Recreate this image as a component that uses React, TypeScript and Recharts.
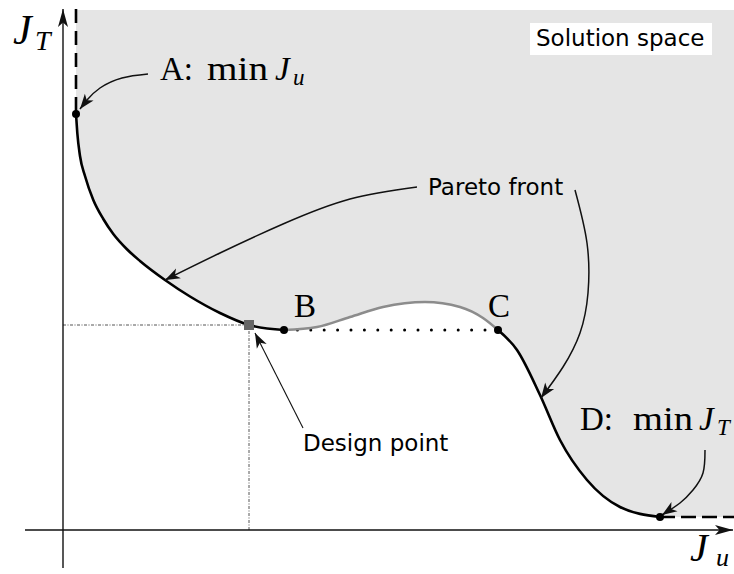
import { ComposedChart, XAxis, YAxis, Area, Line, ReferenceLine, ReferenceDot } from 'recharts';

// Objective space: x = J_u, y = J_T (arbitrary cost units, origin where the axes cross)
const X_DOMAIN: [number, number] = [-63, 671];
const Y_DOMAIN: [number, number] = [-44, 530];
const SPACE_TOP = 520;
const SPACE_RIGHT = 671;

// Pareto front, split by how each piece is drawn
const frontAtoB = [
  { x: 13, y: 416 },
  { x: 14.3, y: 397 },
  { x: 17, y: 374 },
  { x: 22, y: 354 },
  { x: 30.3, y: 330 },
  { x: 40.3, y: 311 },
  { x: 50.3, y: 296 },
  { x: 63.7, y: 281 },
  { x: 77, y: 269 },
  { x: 102, y: 250 },
  { x: 127, y: 233.5 },
  { x: 157, y: 217 },
  { x: 186, y: 205 },
  { x: 221, y: 200 },
];
const nonConvexBtoC = [
  { x: 221, y: 200 },
  { x: 254, y: 203 },
  { x: 287, y: 213 },
  { x: 320, y: 223 },
  { x: 362, y: 228 },
  { x: 397, y: 223 },
  { x: 420, y: 212 },
  { x: 435, y: 200 },
];
const frontCtoD = [
  { x: 435, y: 200 },
  { x: 454, y: 180 },
  { x: 477, y: 135 },
  { x: 497, y: 90 },
  { x: 524, y: 50 },
  { x: 557, y: 23 },
  { x: 597, y: 13 },
];

const pointA = { x: 13, y: 416 };
const pointB = { x: 221, y: 200 };
const pointC = { x: 435, y: 200 };
const pointD = { x: 597, y: 13 };
const designPoint = { x: 186, y: 205 };

// annotation arrows (last point is the tip)
const arrowA = [
  { x: 85, y: 456 },
  { x: 59, y: 452 },
  { x: 37, y: 442 },
  { x: 24, y: 430 },
  { x: 17, y: 421 },
];
const arrowFrontLeft = [
  { x: 354, y: 343 },
  { x: 287, y: 331 },
  { x: 220, y: 306 },
  { x: 157, y: 277 },
  { x: 102, y: 250 },
];
const arrowFrontRight = [
  { x: 512, y: 340 },
  { x: 524, y: 287 },
  { x: 525, y: 237 },
  { x: 517, y: 197 },
  { x: 500, y: 163 },
  { x: 478, y: 132 },
];
const arrowDesign = [
  { x: 240, y: 102 },
  { x: 192, y: 197 },
];
const arrowD = [
  { x: 642, y: 80 },
  { x: 640, y: 57 },
  { x: 630, y: 40 },
  { x: 617, y: 27 },
  { x: 599, y: 15 },
];

// feasible region: everything above the front
const regionData = [
  ...frontAtoB,
  ...nonConvexBtoC.slice(1),
  ...frontCtoD.slice(1),
  { x: SPACE_RIGHT, y: pointD.y },
].map((p) => ({ x: p.x, band: [p.y, SPACE_TOP] }));

const serif = '"Liberation Serif", "Times New Roman", serif';
const sans = '"DejaVu Sans", Verdana, sans-serif';

function headPoints(x1: number, y1: number, x2: number, y2: number, len: number, half: number, notch: number) {
  const a = Math.atan2(y2 - y1, x2 - x1);
  const ux = Math.cos(a);
  const uy = Math.sin(a);
  const bx = x2 - ux * len;
  const by = y2 - uy * len;
  const nx = x2 - ux * (len - notch);
  const ny = y2 - uy * (len - notch);
  return [
    [x2, y2],
    [bx - uy * half, by + ux * half],
    [nx, ny],
    [bx + uy * half, by - ux * half],
  ]
    .map((p) => p.join(','))
    .join(' ');
}

// axis: shaft plus a large stealth head
const axisShape = (p: any) => (
  <g>
    <line x1={p.x1} y1={p.y1} x2={p.x2} y2={p.y2} stroke="#111" strokeWidth={1.4} />
    <polygon points={headPoints(p.x1, p.y1, p.x2, p.y2, 18, 5, 4.5)} fill="#111" />
  </g>
);

// only the head, the curved shaft is a Line
const headShape = (p: any) => (
  <polygon points={headPoints(p.x1, p.y1, p.x2, p.y2, 15, 5.5, 4)} fill="#111" />
);

type Piece = { t: string; dx: number; dy?: number; size: number; italic?: boolean; width?: number };

const mathLabel = (pieces: Piece[]) => (p: any) => (
  <g>
    {pieces.map((pc, i) => (
      <text
        key={i}
        x={p.cx + pc.dx}
        y={p.cy + (pc.dy ?? 0)}
        fontFamily={serif}
        fontSize={pc.size}
        fontStyle={pc.italic ? 'italic' : 'normal'}
        fill="#000"
        textLength={pc.width}
        lengthAdjust={pc.width ? 'spacingAndGlyphs' : undefined}
      >
        {pc.t}
      </text>
    ))}
  </g>
);

const sansLabel = (text: string, box?: { w: number; h: number }) => (p: any) => (
  <g>
    {box && <rect x={p.cx - 6} y={p.cy - 23} width={box.w} height={box.h} fill="#fff" />}
    <text x={p.cx} y={p.cy} fontFamily={sans} fontSize={23} fill="#000">
      {text}
    </text>
  </g>
);

const squareShape = (p: any) => <rect x={p.cx - 5} y={p.cy - 5} width={10} height={10} fill="#666" />;

const tip = (arr: { x: number; y: number }[]) => [arr[arr.length - 2], arr[arr.length - 1]];

export default function App() {
  return (
    <div style={{ position: 'absolute', left: 0, top: 0, background: '#fff' }}>
      <ComposedChart width={734} height={574} margin={{ top: 0, right: 0, bottom: 0, left: 0 }}>
        <XAxis type="number" dataKey="x" domain={X_DOMAIN} allowDataOverflow hide />
        <YAxis type="number" domain={Y_DOMAIN} allowDataOverflow hide />

        <Area
          data={regionData}
          dataKey="band"
          type="monotone"
          stroke="none"
          fill="#e5e5e5"
          fillOpacity={1}
          isAnimationActive={false}
          activeDot={false}
        />

        {/* design point projections */}
        <ReferenceLine
          segment={[{ x: 0, y: designPoint.y }, designPoint]}
          stroke="#555"
          strokeWidth={1}
          strokeDasharray="3 1.5 1 1.5"
        />
        <ReferenceLine
          segment={[{ x: designPoint.x, y: 0 }, designPoint]}
          stroke="#555"
          strokeWidth={1}
          strokeDasharray="3 1.5 1 1.5"
        />

        {/* axes */}
        <ReferenceLine segment={[{ x: -38, y: 0 }, { x: 670, y: 0 }]} shape={axisShape} />
        <ReferenceLine segment={[{ x: 0, y: -38 }, { x: 0, y: 521 }]} shape={axisShape} />

        {/* open ends of the solution space */}
        <ReferenceLine
          segment={[{ x: pointA.x, y: 521 }, pointA]}
          stroke="#000"
          strokeWidth={2.6}
          strokeDasharray="14 8"
        />
        <ReferenceLine
          segment={[pointD, { x: SPACE_RIGHT, y: pointD.y }]}
          stroke="#000"
          strokeWidth={2.6}
          strokeDasharray="15 6"
        />
        {/* convex hull between B and C */}
        <ReferenceLine
          segment={[pointB, pointC]}
          stroke="#000"
          strokeWidth={3}
          strokeLinecap="round"
          strokeDasharray="0 13.4"
        />

        <Line data={nonConvexBtoC} dataKey="y" type="monotone" stroke="#8c8c8c" strokeWidth={2.6} dot={false} activeDot={false} isAnimationActive={false} />
        <Line data={frontAtoB} dataKey="y" type="monotone" stroke="#000" strokeWidth={2.6} dot={false} activeDot={false} isAnimationActive={false} />
        <Line data={frontCtoD} dataKey="y" type="monotone" stroke="#000" strokeWidth={2.6} dot={false} activeDot={false} isAnimationActive={false} />

        {/* annotation arrows */}
        {[arrowA, arrowFrontLeft, arrowFrontRight, arrowD].map((arr, i) => (
          <Line
            key={`arrow-${i}`}
            data={arr}
            dataKey="y"
            type="natural"
            stroke="#111"
            strokeWidth={1.5}
            dot={false}
            activeDot={false}
            isAnimationActive={false}
          />
        ))}
        <Line data={arrowDesign} dataKey="y" type="linear" stroke="#111" strokeWidth={1.1} dot={false} activeDot={false} isAnimationActive={false} />
        {[arrowA, arrowFrontLeft, arrowFrontRight, arrowD, arrowDesign].map((arr, i) => (
          <ReferenceLine key={`head-${i}`} segment={tip(arr)} shape={headShape} />
        ))}

        {/* points */}
        <ReferenceDot x={designPoint.x} y={designPoint.y} shape={squareShape} />
        {[pointA, pointB, pointC, pointD].map((p, i) => (
          <ReferenceDot key={`pt-${i}`} x={p.x} y={p.y} r={4} fill="#000" stroke="none" />
        ))}

        {/* labels */}
        <ReferenceDot
          x={-50}
          y={486}
          shape={mathLabel([
            { t: 'J', dx: 0, size: 42, italic: true },
            { t: 'T', dx: 22, dy: 6, size: 28, italic: true },
          ])}
        />
        <ReferenceDot
          x={627}
          y={-31}
          shape={mathLabel([
            { t: 'J', dx: 0, size: 40, italic: true },
            { t: 'u', dx: 26, dy: 5, size: 26, italic: true },
          ])}
        />
        <ReferenceDot
          x={97}
          y={450}
          shape={mathLabel([
            { t: 'A:', dx: 0, size: 33 },
            { t: 'min', dx: 47, size: 33, width: 61 },
            { t: 'J', dx: 115, size: 33, italic: true },
            { t: 'u', dx: 133, dy: 5, size: 23, italic: true },
          ])}
        />
        <ReferenceDot
          x={517}
          y={100}
          shape={mathLabel([
            { t: 'D:', dx: 0, size: 33 },
            { t: 'min', dx: 53, size: 33, width: 60 },
            { t: 'J', dx: 119, size: 33, italic: true },
            { t: 'T', dx: 137, dy: 5, size: 23, italic: true },
          ])}
        />
        <ReferenceDot x={231} y={213} shape={mathLabel([{ t: 'B', dx: 0, size: 33 }])} />
        <ReferenceDot x={425} y={213} shape={mathLabel([{ t: 'C', dx: 0, size: 33 }])} />

        <ReferenceDot x={473} y={484} shape={sansLabel('Solution space', { w: 182, h: 32 })} />
        <ReferenceDot x={365} y={335} shape={sansLabel('Pareto front')} />
        <ReferenceDot x={240} y={79} shape={sansLabel('Design point')} />
      </ComposedChart>
    </div>
  );
}
